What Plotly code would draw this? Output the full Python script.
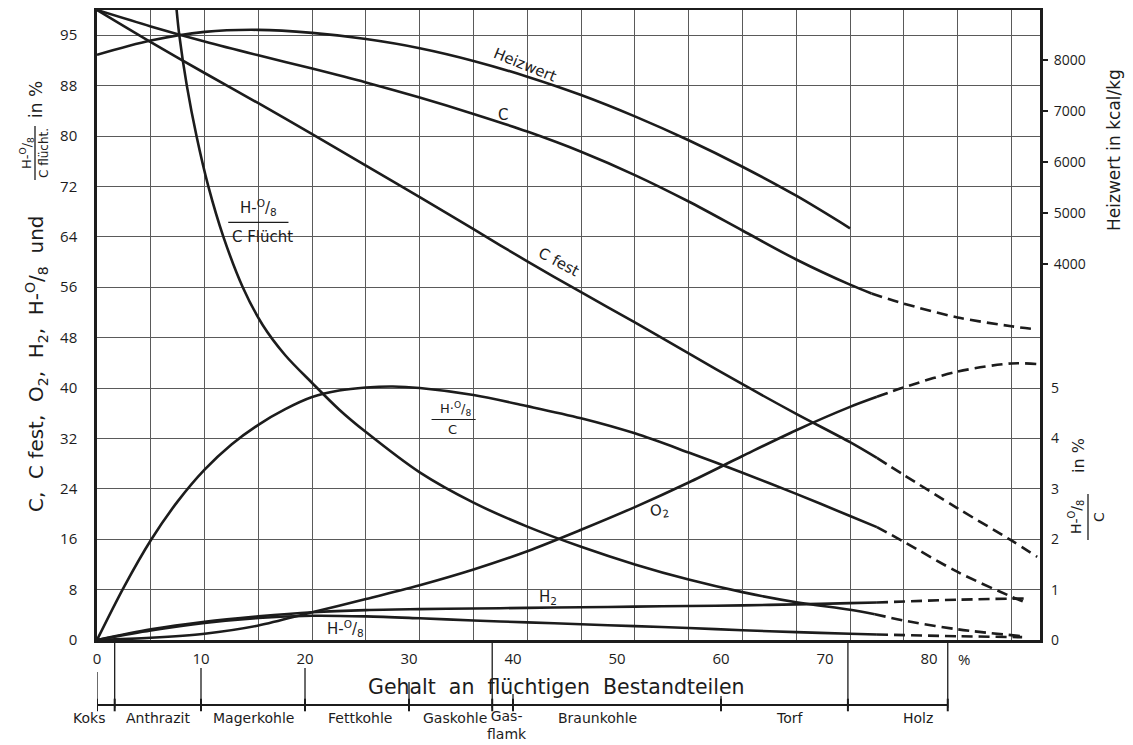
import plotly.graph_objects as go

# ---------------- data ----------------
# x = Gehalt an flüchtigen Bestandteilen (%)
heiz_x = [0, 5, 10, 15, 20, 25, 30, 35, 40, 45, 50, 55, 60, 65, 70]
heiz_kcal = [8110, 8390, 8560, 8600, 8540, 8420, 8240, 7990, 7680, 7320, 6900, 6430, 5910, 5340, 4700]

c_x = [0, 5, 10, 15, 20, 25, 30, 35, 40, 45, 50, 55, 60, 65, 70, 72]
c_val = [100, 97.4, 95.0, 92.8, 90.7, 88.5, 86.1, 83.5, 80.7, 77.5, 73.8, 69.6, 65.0, 60.4, 56.4, 55.0]
c_ext_x = [72, 75, 80, 85, 87.4]
c_ext = [55.0, 53.4, 51.2, 49.8, 49.3]

cfest_x = [0, 5, 10, 15, 20, 25, 30, 35, 40, 45, 50, 55, 60, 65, 70, 72.5]
cfest_val = [100, 94.9, 90.0, 85.2, 80.3, 75.3, 70.3, 65.2, 60.1, 55.2, 50.4, 45.5, 40.6, 35.9, 31.4, 28.9]
cfest_ext_x = [72.5, 75, 80, 85, 87.4]
cfest_ext = [28.9, 26.2, 20.9, 15.8, 13.2]

hoc_x = [0, 2.5, 5, 7.5, 10, 12.5, 15, 17.5, 20, 22.5, 25, 27.5, 30, 35, 40, 45, 50, 55, 60, 65, 70, 72.5]
hoc_pct = [0, 1.05, 1.98, 2.75, 3.38, 3.88, 4.27, 4.58, 4.82, 4.95, 5.01, 5.03, 5.0, 4.86, 4.64, 4.40, 4.10,
           3.72, 3.32, 2.90, 2.46, 2.24]
hoc_ext_x = [72.5, 75, 80, 85, 86.4]
hoc_ext = [2.24, 1.95, 1.35, 0.86, 0.74]

o2_x = [0, 5, 10, 15, 20, 25, 30, 35, 40, 45, 50, 55, 60, 65, 70, 72.5]
o2_val = [0, 0.35, 1.0, 2.3, 4.4, 6.5, 8.7, 11.2, 14.1, 17.5, 21.1, 25.0, 29.2, 33.3, 37.0, 38.6]
o2_ext_x = [72.5, 75, 80, 85, 87.4]
o2_ext = [38.6, 40.1, 42.6, 43.9, 43.8]

h2_x = [0, 5, 10, 15, 20, 25, 30, 35, 40, 45, 50, 55, 60, 65, 70, 72.5]
h2_val = [0, 1.7, 2.9, 3.75, 4.4, 4.75, 4.9, 5.0, 5.1, 5.2, 5.3, 5.4, 5.5, 5.65, 5.85, 5.95]
h2_ext_x = [72.5, 80, 86.4]
h2_ext = [5.95, 6.4, 6.6]

ho8_x = [0, 5, 10, 15, 20, 25, 30, 35, 40, 45, 50, 55, 60, 65, 70, 72.5]
ho8_val = [0, 1.5, 2.7, 3.5, 3.85, 3.75, 3.45, 3.1, 2.8, 2.5, 2.2, 1.9, 1.55, 1.25, 1.0, 0.88]
ho8_ext_x = [72.5, 80, 86]
ho8_ext = [0.88, 0.6, 0.45]

fl_x = [7.4, 7.65, 8.35, 9.25, 10.35, 11.75, 13.55, 15.4, 17.5, 20, 22.5, 25, 30, 35, 40, 45, 50, 55, 60, 65, 70, 72.3]
fl_val = [100, 96, 88, 80, 72, 64, 56, 50, 45.2, 40.8, 36.6, 33.0, 26.6, 21.8, 18.0, 14.8, 12.0, 9.6, 7.6, 6.0, 4.8, 4.1]
fl_ext_x = [72.3, 75, 80, 86]
fl_ext = [4.1, 3.1, 1.7, 0.6]

# axis ticks
left_tickvals = [0, 8, 16, 24, 32, 40, 48, 56, 64, 72, 80, 88, 96]
left_ticktext = ["0", "8", "16", "24", "32", "40", "48", "56", "64", "72", "80", "88", "95"]
heiz_ticks = [4000, 5000, 6000, 7000, 8000]
hoc_ticks = [0, 1, 2, 3, 4, 5]
x_ticks = [0, 10, 20, 30, 40, 50, 60, 70, 80]

# coal classes on the lower scale
cat_names = ["Koks", "Anthrazit", "Magerkohle", "Fettkohle", "Gaskohle", "Gas-<br>flamk", "Braunkohle", "Torf", "Holz"]
cat_label_x = [-0.8, 5.9, 15.0, 25.3, 34.4, 39.4, 48.1, 66.6, 78.9]
cat_bounds = [0, 1.7, 10, 20, 30, 38, 40, 60, 72.2, 81.8]
cat_conn_top = [672, 643, 668, 668, 682, 643, 694, 696, 643, 643]  # page px top of connector

# ---------------- layout geometry (page pixels) ----------------
PAGE_W, PAGE_H = 1133, 745
BODY = 8                      # default page margin around the figure
W, H = PAGE_W - BODY, PAGE_H - BODY
L, R, T, B = 97, 1040, 10, 640   # plot area in page pixels
X_MAX = 87.66                  # grid scale
X2_MAX = 90.67                 # hand-lettered label scale


def pxx(xp):
    return (xp - L) / (R - L)


def pxy(yp):
    return (PAGE_H - yp) / (PAGE_H - T)


INK = "#1c1c1c"
GRID = "#5a5a5a"
FONT = "Open Sans"
LFONT = "DejaVu Sans"
NB = "\u00a0"
main_dom = [pxy(B), 1]
strip_dom = [0, pxy(B)]

fig = go.Figure()


def add(x, y, yaxis="y", dash=None):
    fig.add_trace(go.Scatter(
        x=x, y=y, mode="lines", xaxis="x", yaxis=yaxis,
        line=dict(color=INK, width=2.6, shape="spline", smoothing=0.9, dash=dash),
        hoverinfo="skip", showlegend=False))


DASH = "11px,6px"
add(heiz_x, heiz_kcal, yaxis="y2")
add(c_x, c_val)
add(c_ext_x, c_ext, dash=DASH)
add(cfest_x, cfest_val)
add(cfest_ext_x, cfest_ext, dash=DASH)
add(hoc_x, hoc_pct, yaxis="y3")
add(hoc_ext_x, hoc_ext, yaxis="y3", dash=DASH)
add(o2_x, o2_val)
add(o2_ext_x, o2_ext, dash=DASH)
add(h2_x, h2_val)
add(h2_ext_x, h2_ext, dash=DASH)
add(ho8_x, ho8_val)
add(ho8_ext_x, ho8_ext, dash=DASH)
add(fl_x, fl_val)
add(fl_ext_x, fl_ext, dash=DASH)

# invisible trace so the label scale axis x2 is drawn
fig.add_trace(go.Scatter(x=[x_ticks[0]], y=[0], xaxis="x2", yaxis="y", mode="markers",
                         marker=dict(opacity=0), hoverinfo="skip", showlegend=False))

# lower class scale (strip subplot x3/y4), y4 value = page px from bottom
sy = lambda yp: PAGE_H - yp
fig.add_trace(go.Scatter(x=[cat_bounds[0], cat_bounds[-1]], y=[sy(705), sy(705)], xaxis="x3", yaxis="y4",
                         mode="lines", line=dict(color=INK, width=2), hoverinfo="skip", showlegend=False))
cx, cy = [], []
for b, top in zip(cat_bounds, cat_conn_top):
    cx += [b, b, None]
    cy += [sy(top), sy(708), None]
fig.add_trace(go.Scatter(x=cx, y=cy, xaxis="x3", yaxis="y4", mode="lines",
                         line=dict(color=INK, width=1.3), hoverinfo="skip", showlegend=False))
fig.add_trace(go.Scatter(x=cat_bounds, y=[sy(705)] * len(cat_bounds), xaxis="x3", yaxis="y4",
                         mode="markers", marker=dict(symbol="line-ns", size=9, line=dict(color=INK, width=2)),
                         hoverinfo="skip", showlegend=False))

C = dict(xanchor="center", yanchor="middle", showarrow=False)
tf = dict(family=LFONT, color=INK)
ann = []
for name, xv in zip(cat_names, cat_label_x):
    two = "<br>" in name
    ann.append(dict(x=xv / X2_MAX, y=sy(725) if two else sy(718), xref="paper", yref="y4", text=name,
                    font=dict(size=14, **tf), **C))

# axis captions
ann += [
    dict(x=pxx(556), y=pxy(687), xref="paper", yref="paper",
         text=f"Gehalt{NB}{NB}an{NB}{NB}flüchtigen{NB}{NB}Bestandteilen",
         font=dict(size=20.5, **tf), **C),
    dict(x=83.4, y=pxy(659), xref="x2", yref="paper", text="%", font=dict(size=15, family=FONT, color=INK), **C),
    dict(x=pxx(36), y=pxy(364), xref="paper", yref="paper", textangle=-90,
         text=f"C,{NB}{NB}C{NB}fest,{NB}{NB}O<sub>2</sub>,{NB}{NB}H<sub>2</sub>,{NB}{NB}H-<sup>O</sup>/<sub>8</sub>{NB}{NB}und",
         font=dict(size=20, **tf), **C),
    dict(x=pxx(27), y=pxy(153), xref="paper", yref="paper", textangle=-90,
         text="H-<sup>O</sup>/<sub>8</sub>", font=dict(size=13, **tf), **C),
    dict(x=pxx(44), y=pxy(153), xref="paper", yref="paper", textangle=-90,
         text="C flücht.", font=dict(size=12, **tf), **C),
    dict(x=pxx(36), y=pxy(100), xref="paper", yref="paper", textangle=-90,
         text=f"in{NB}%", font=dict(size=17, **tf), **C),
    dict(x=pxx(1114), y=pxy(150), xref="paper", yref="paper", textangle=-90,
         text="Heizwert in kcal/kg", font=dict(size=17, **tf), **C),
    dict(x=pxx(1078), y=pxy(456), xref="paper", yref="paper", textangle=-90,
         text=f"in{NB}%", font=dict(size=16, **tf), **C),
    dict(x=pxx(1076), y=pxy(517), xref="paper", yref="paper", textangle=-90,
         text="H-<sup>O</sup>/<sub>8</sub>", font=dict(size=14, **tf), **C),
    dict(x=pxx(1099), y=pxy(517), xref="paper", yref="paper", textangle=-90,
         text="C", font=dict(size=14, **tf), **C),
]
# curve labels
lf = dict(size=15, **tf)
ann += [
    dict(x=39.8, y=91.3, text="Heizwert", textangle=22, font=lf, **C),
    dict(x=37.7, y=83.3, text="C", font=lf, **C),
    dict(x=42.9, y=60.0, text="C fest", textangle=28, font=lf, **C),
    dict(x=15.0, y=68.7, text="H-<sup>O</sup>/<sub>8</sub>", font=lf, **C),
    dict(x=15.4, y=64.0, text="C Flücht", font=lf, **C),
    dict(x=33.3, y=36.6, text="H·<sup>O</sup>/<sub>8</sub>", font=dict(size=13, **tf), **C),
    dict(x=33.0, y=33.4, text="C", font=dict(size=13, **tf), **C),
    dict(x=52.3, y=20.6, text="O<sub>2</sub>", textangle=-8, font=lf, **C),
    dict(x=41.9, y=6.8, text="H<sub>2</sub>", font=lf, **C),
    dict(x=23.1, y=1.9, text="H-<sup>O</sup>/<sub>8</sub>", font=lf, **C),
]

shapes = [
    # fraction bars
    dict(type="line", xref="x", yref="y", x0=12.2, x1=17.8, y0=66.3, y1=66.3, line=dict(color=INK, width=1.3)),
    dict(type="line", xref="x", yref="y", x0=31.1, x1=35.2, y0=35.0, y1=35.0, line=dict(color=INK, width=1.2)),
    dict(type="line", xref="paper", yref="paper", x0=pxx(35), x1=pxx(35), y0=pxy(180), y1=pxy(126),
         line=dict(color=INK, width=1.3)),
    dict(type="line", xref="paper", yref="paper", x0=pxx(1088), x1=pxx(1088), y0=pxy(540), y1=pxy(494),
         line=dict(color=INK, width=1.3)),
]

axcommon = dict(showline=True, linecolor=INK, linewidth=2.5, mirror=True, zeroline=False,
                gridcolor=GRID, gridwidth=1)
fig.update_layout(
    width=W, height=H,
    margin=dict(l=L - BODY, r=PAGE_W - R, t=T - BODY, b=0, autoexpand=False),
    paper_bgcolor="white", plot_bgcolor="white",
    font=dict(family=FONT, color=INK, size=15),
    showlegend=False,
    xaxis=dict(domain=[0, 1], range=[0, X_MAX], dtick=5, tick0=0, showgrid=True, showticklabels=False,
               ticks="", anchor="y", **axcommon),
    xaxis2=dict(overlaying="x", anchor="y", side="bottom", range=[0, X2_MAX], tickvals=x_ticks,
                showgrid=False, showline=False, zeroline=False, ticks="", ticklabelstandoff=8,
                tickfont=dict(size=15, family=FONT, color=INK)),
    xaxis3=dict(domain=[0, 1], anchor="y4", range=[0, X2_MAX], visible=False),
    yaxis=dict(domain=main_dom, range=[0, 100], tickvals=left_tickvals, ticktext=left_ticktext,
               showgrid=True, ticks="", anchor="x", ticklabelstandoff=14,
               tickfont=dict(size=15, family=FONT, color=INK), **axcommon),
    yaxis2=dict(overlaying="y", side="right", anchor="x", range=[-3390, 8990], tickvals=heiz_ticks,
                ticks="outside", ticklen=7, tickwidth=1.5, tickcolor=INK, showgrid=False, zeroline=False,
                showline=False, ticklabelstandoff=3, tickfont=dict(size=14, family=FONT, color=INK)),
    yaxis3=dict(overlaying="y", side="right", anchor="x", range=[0, 12.5], tickvals=hoc_ticks,
                ticks="", showgrid=False, zeroline=False, showline=False, ticklabelstandoff=10,
                tickfont=dict(size=14, family=FONT, color=INK)),
    yaxis4=dict(domain=strip_dom, anchor="x3", range=[0, PAGE_H - B], visible=False),
    annotations=ann,
    shapes=shapes,
)

fig.write_html("out.html")
